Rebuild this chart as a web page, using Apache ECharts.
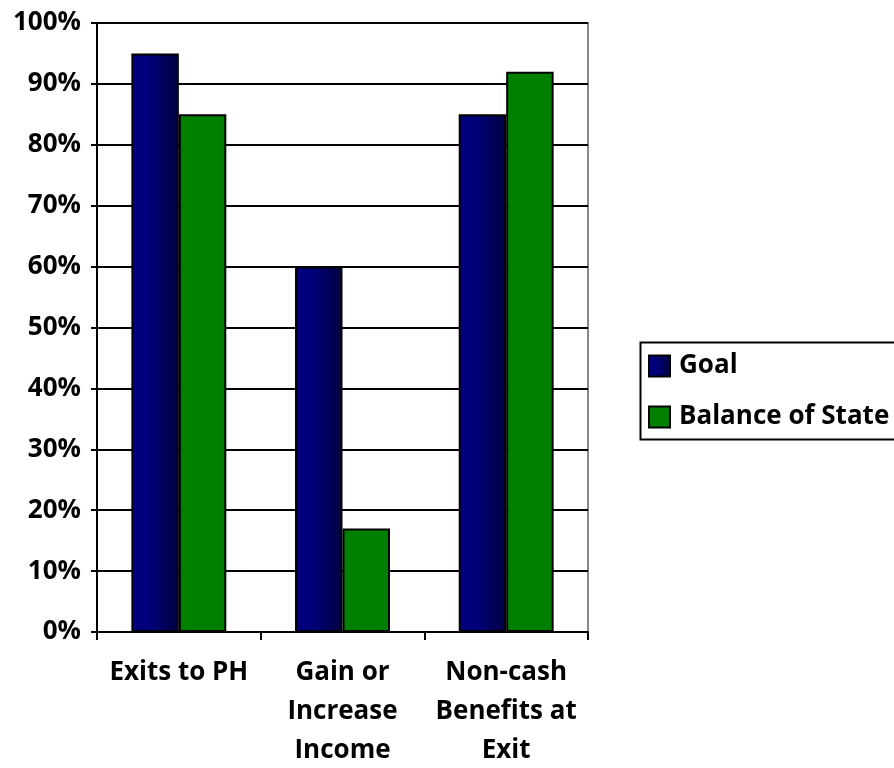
<!DOCTYPE html>
<html><head><meta charset="utf-8">
<script src="https://cdn.jsdelivr.net/npm/echarts@6/dist/echarts.min.js"></script>
<style>html,body{margin:0;padding:0;background:#fff}#c{width:894px;height:768px}</style>
</head><body><div id="c"></div>
<script>
var categories = ['Exits to PH', 'Gain or\nIncrease\nIncome', 'Non-cash\nBenefits at\nExit'];
var goalValues = [95, 60, 85];
var balanceValues = [85, 17, 92];
var seriesNames = ['Goal', 'Balance of State'];

var font = '"Open Sans", "Liberation Sans", sans-serif';
var chart = echarts.init(document.getElementById('c'));
chart.setOption({
  animation: false,
  grid: {left: 97, right: 306, top: 23, bottom: 136, outerBoundsMode: 'none', containLabel: false, show: true, borderColor: '#888', borderWidth: 2, backgroundColor: 'transparent'},
  graphic: [{type: 'rect', left: 638, top: 340, shape: {width: 300, height: 97}, style: {fill: 'none', stroke: '#000', lineWidth: 2}, z: 10}],
  legend: {
    orient: 'vertical', left: 648, top: 352,
    padding: 0, itemGap: 23, icon: 'rect',
    itemWidth: 21, itemHeight: 21,
    textStyle: {fontFamily: font, fontWeight: 'bold', fontSize: 26, lineHeight: 26, color: '#000', padding: [2, 0, 0, 4]},
    data: seriesNames
  },
  xAxis: {
    type: 'category', data: categories,
    axisLine: {lineStyle: {color: '#000', width: 2}},
    axisTick: {show: true, length: 8, lineStyle: {color: '#000', width: 2}},
    axisLabel: {interval: 0, fontFamily: font, fontWeight: 'bold', fontSize: 26, color: '#000', lineHeight: 39, margin: 21}
  },
  yAxis: {
    type: 'value', min: 0, max: 100, interval: 10,
    axisLine: {show: true, lineStyle: {color: '#000', width: 2}},
    axisTick: {show: true, length: 6, lineStyle: {color: '#000', width: 2}},
    splitLine: {lineStyle: {color: '#000', width: 2}},
    axisLabel: {formatter: '{value}%', fontFamily: font, fontWeight: 'bold', fontSize: 26, color: '#000', margin: 16}
  },
  series: [
    {name: seriesNames[0], type: 'bar', data: goalValues, barGap: '0%', barCategoryGap: '42%',
     itemStyle: {color: new echarts.graphic.LinearGradient(0, 0, 1, 0, [{offset: 0, color: '#000080'}, {offset: 0.35, color: '#00007a'}, {offset: 1, color: '#000040'}]), borderColor: '#000', borderWidth: 2}},
    {name: seriesNames[1], type: 'bar', data: balanceValues,
     itemStyle: {color: '#008000', borderColor: '#000', borderWidth: 2}}
  ]
});
</script></body></html>
